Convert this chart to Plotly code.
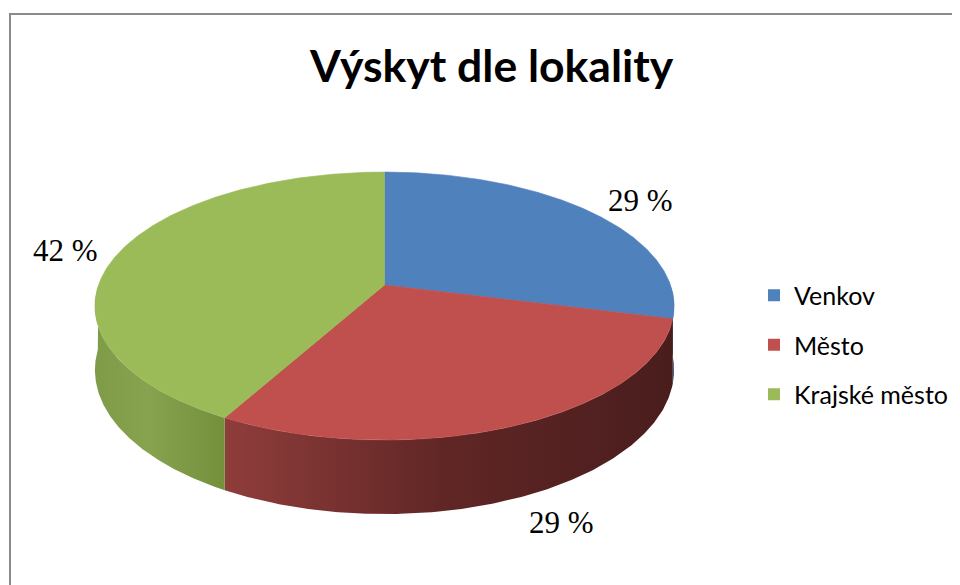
import numpy as np
import plotly.graph_objects as go

# ---- data ----
categories = ["Venkov", "Město", "Krajské město"]
values = [29, 29, 42]
labels_text = ["29 %", "29 %", "42 %"]
top_colors = ["#4F81BD", "#C0504D", "#9BBB59"]
side_scales = [
    [[0, "#3F6797"], [1, "#2E4C72"]],
    [[0, "#8F3D3B"], [0.5, "#5F2625"], [1, "#4A1D1D"]],
    [[0, "#7F9B48"], [0.4, "#87A350"], [1, "#74903B"]],
]
title_text = "Výskyt dle lokality"

# ---- geometry of the tilted pie (page pixel space) ----
CX, CY = 384.5, 285.0
SX, AY, K, DEPTH = 286.0, 130.7, 0.157, 62.4


def proj(theta_deg, z):
    t = np.radians(theta_deg)
    X, Y = np.sin(t), -np.cos(t)
    w = 1 - K * Y
    return CX + SX * X / w, CY + (AY * Y + z) / w


fig = go.Figure()

total = float(sum(values))
bounds = np.concatenate([[0], np.cumsum(values)]) / total * 360.0

# side faces (front half only)
for i in range(len(values)):
    a0, a1 = max(bounds[i], 90.0), min(bounds[i + 1], 270.0)
    if a1 <= a0:
        continue
    th = np.linspace(a0, a1, 200)
    xt, yt = proj(th, 0)
    xb, yb = proj(th[::-1], DEPTH)
    xs = np.concatenate([xt, xb, xt[:1]])
    ys = np.concatenate([yt, yb, yt[:1]])
    fig.add_trace(go.Scatter(
        x=xs, y=ys, mode="lines", line=dict(width=0), fill="toself",
        fillgradient=dict(type="horizontal", colorscale=side_scales[i]),
        hoverinfo="skip", showlegend=False))

# top faces
for i in range(len(values)):
    th = np.linspace(bounds[i], bounds[i + 1], 300)
    xa, ya = proj(th, 0)
    xs = np.concatenate([[CX], xa, [CX]])
    ys = np.concatenate([[CY], ya, [CY]])
    fig.add_trace(go.Scatter(
        x=xs, y=ys, mode="lines", line=dict(width=0.6, color=top_colors[i]),
        fill="toself", fillcolor=top_colors[i],
        hoverinfo="skip", showlegend=False))

# legend entries
for i, name in enumerate(categories):
    fig.add_trace(go.Scatter(
        x=[None], y=[None], mode="markers", name=name, legendgroup=name,
        marker=dict(symbol="square", size=12, color=top_colors[i])))

# data labels
label_pos = [(640, 200), (561, 522), (65, 250)]
for (lx, ly), txt in zip(label_pos, labels_text):
    fig.add_annotation(x=lx, y=ly, text=txt, showarrow=False,
                       font=dict(family="Liberation Serif", size=31, color="#000000"),
                       xanchor="center", yanchor="middle")

fig.add_annotation(x=491, y=64, text="<b>" + title_text + "</b>", showarrow=False,
                   font=dict(family="Lato", size=44.5, color="#000000"),
                   xanchor="center", yanchor="middle")

# chart frame (only top and left edges fall inside the window)
fig.add_shape(type="path", path="M 1100,14 L 10,14 L 10,900",
              line=dict(color="#8A8A8A", width=2), layer="below")

# page body has an 8px margin: map axis units to page pixels
fig.update_layout(
    width=952, height=577,
    margin=dict(l=0, r=0, t=0, b=0),
    paper_bgcolor="white", plot_bgcolor="white",
    xaxis=dict(range=[8, 960], visible=False, fixedrange=True),
    yaxis=dict(range=[585, 8], visible=False, fixedrange=True),
    showlegend=True,
    legend=dict(x=(754 - 8) / 952, y=1 - (272.5 - 8) / 577, xanchor="left", yanchor="top",
                font=dict(family="Lato", size=25, color="#000000"),
                tracegroupgap=14, bgcolor="rgba(0,0,0,0)"),
)

fig.write_html("out.html", config={"displayModeBar": False})
